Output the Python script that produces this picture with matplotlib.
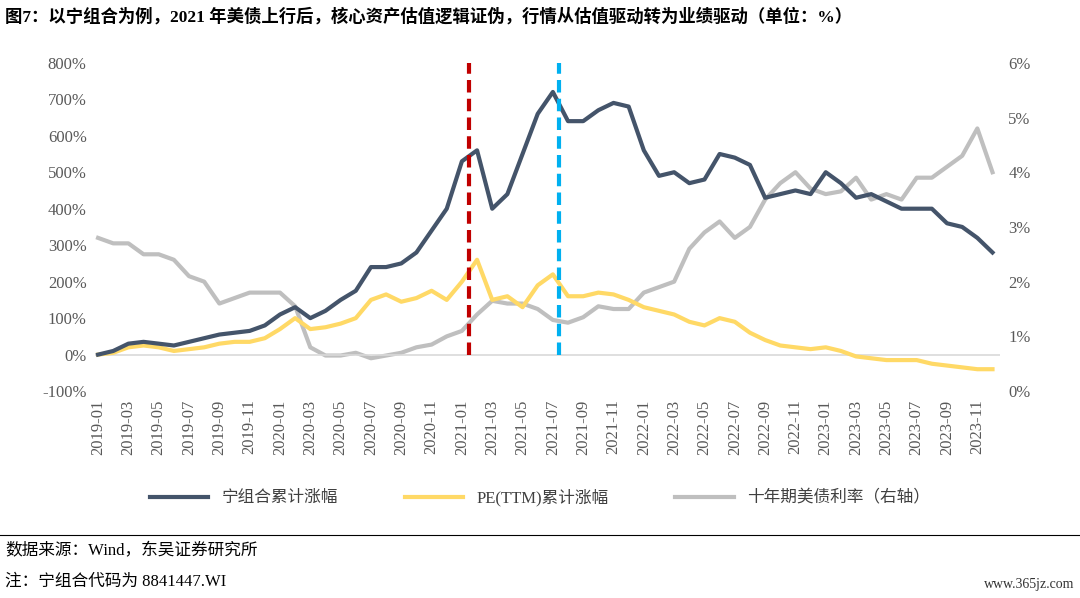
import numpy as np
import pandas as pd
import matplotlib
matplotlib.use("Agg")
import matplotlib.pyplot as plt

plt.rcParams['font.family'] = ['Liberation Serif', 'Noto Sans CJK SC', 'DejaVu Sans']

months = pd.date_range("2019-01-01", periods=60, freq="MS").strftime("%Y-%m").tolist()

ning = [0, 10, 30, 35, 30, 25, 35, 45, 55, 60, 65, 80,
        110, 130, 100, 120, 150, 175, 240, 240, 250, 280, 340, 400,
        530, 560, 400, 440, 550, 660, 720, 640, 640, 670, 690, 680,
        560, 490, 500, 470, 480, 550, 540, 520, 430, 440, 450, 440,
        500, 470, 430, 440, 420, 400, 400, 400, 360, 350, 320, 280]
pe = [0, 5, 20, 25, 20, 10, 15, 20, 30, 35, 35, 45,
      70, 100, 70, 75, 85, 100, 150, 165, 145, 155, 175, 150,
      200, 260, 150, 160, 130, 190, 220, 160, 160, 170, 165, 150,
      130, 120, 110, 90, 80, 100, 90, 60, 40, 25, 20, 15,
      20, 10, -5, -10, -15, -15, -15, -25, -30, -35, -40, -40]
ust10 = [2.8, 2.7, 2.7, 2.5, 2.5, 2.4, 2.1, 2.0, 1.6, 1.7, 1.8, 1.8,
         1.8, 1.55, 0.8, 0.65, 0.65, 0.7, 0.6, 0.65, 0.7, 0.8, 0.85, 1.0,
         1.1, 1.4, 1.65, 1.6, 1.6, 1.5, 1.3, 1.25, 1.35, 1.55, 1.5, 1.5,
         1.8, 1.9, 2.0, 2.6, 2.9, 3.1, 2.8, 3.0, 3.5, 3.8, 4.0, 3.7,
         3.6, 3.65, 3.9, 3.5, 3.6, 3.5, 3.9, 3.9, 4.1, 4.3, 4.8, 4.0]
red_line_pos = 24.5
blue_line_pos = 30.4

x = np.arange(len(months))
fig = plt.figure(figsize=(10.8, 5.98), dpi=100)
ax = fig.add_axes([0.088, 0.346, 0.838, 0.549])
ax2 = ax.twinx()

ax.axhline(0, color="#d9d9d9", lw=1.2, zorder=1)
l1, = ax.plot(x, ning, color="#44546a", lw=3, label="宁组合累计涨幅", zorder=4)
l2, = ax.plot(x, pe, color="#ffd966", lw=3, label="PE(TTM)累计涨幅", zorder=3)
l3, = ax2.plot(x, ust10, color="#bfbfbf", lw=3, label="十年期美债利率（右轴）", zorder=2)
ax.set_zorder(ax2.get_zorder() + 1)
ax.patch.set_visible(False)
ax.axvline(red_line_pos, ymin=0.0 + 36.5/328*1, ymax=1, color="#c00000", lw=3, ls=(0, (3, 1.5)), zorder=5)
ax.axvline(blue_line_pos, ymin=36.5/328, ymax=1, color="#00b0f0", lw=3, ls=(0, (3, 1.5)), zorder=5)

ax.set_ylim(-100, 800)
ax.set_yticks(range(-100, 801, 100))
ax.set_yticklabels([f"{v}%" for v in range(-100, 801, 100)])
ax2.set_ylim(0, 6)
ax2.set_yticks(range(0, 7))
ax2.set_yticklabels([f"{v}%" for v in range(0, 7)])
ax.set_xlim(-0.2, 59.5)
ax.set_xticks(x[::2])
ax.set_xticklabels(months[::2], rotation=90)
for a in (ax, ax2):
    for s in a.spines.values():
        s.set_visible(False)
    a.tick_params(length=0, labelsize=12, colors="#595959", pad=6)

fig.legend(handles=[l1, l2, l3], loc="center", bbox_to_anchor=(0.5, 0.168), ncol=3,
           frameon=False, fontsize=12, handlelength=3.5, columnspacing=4,
           labelcolor="#404040")

fig.text(0.005, 0.972, "图7：以宁组合为例，2021 年美债上行后，核心资产估值逻辑证伪，行情从估值驱动转为业绩驱动（单位：%）",
         fontsize=12.5, fontweight="bold", va="center", ha="left")
fig.add_artist(plt.Line2D([0, 1], [0.105, 0.105], color="black", lw=0.8))
fig.text(0.005, 0.078, "数据来源：Wind，东吴证券研究所", fontsize=12, va="center")
fig.text(0.005, 0.028, "注：宁组合代码为 8841447.WI", fontsize=12, va="center")
fig.text(0.995, 0.022, "www.365jz.com", fontsize=10, va="center", ha="right", color="#333333")

fig.savefig("out.png", dpi=100)
